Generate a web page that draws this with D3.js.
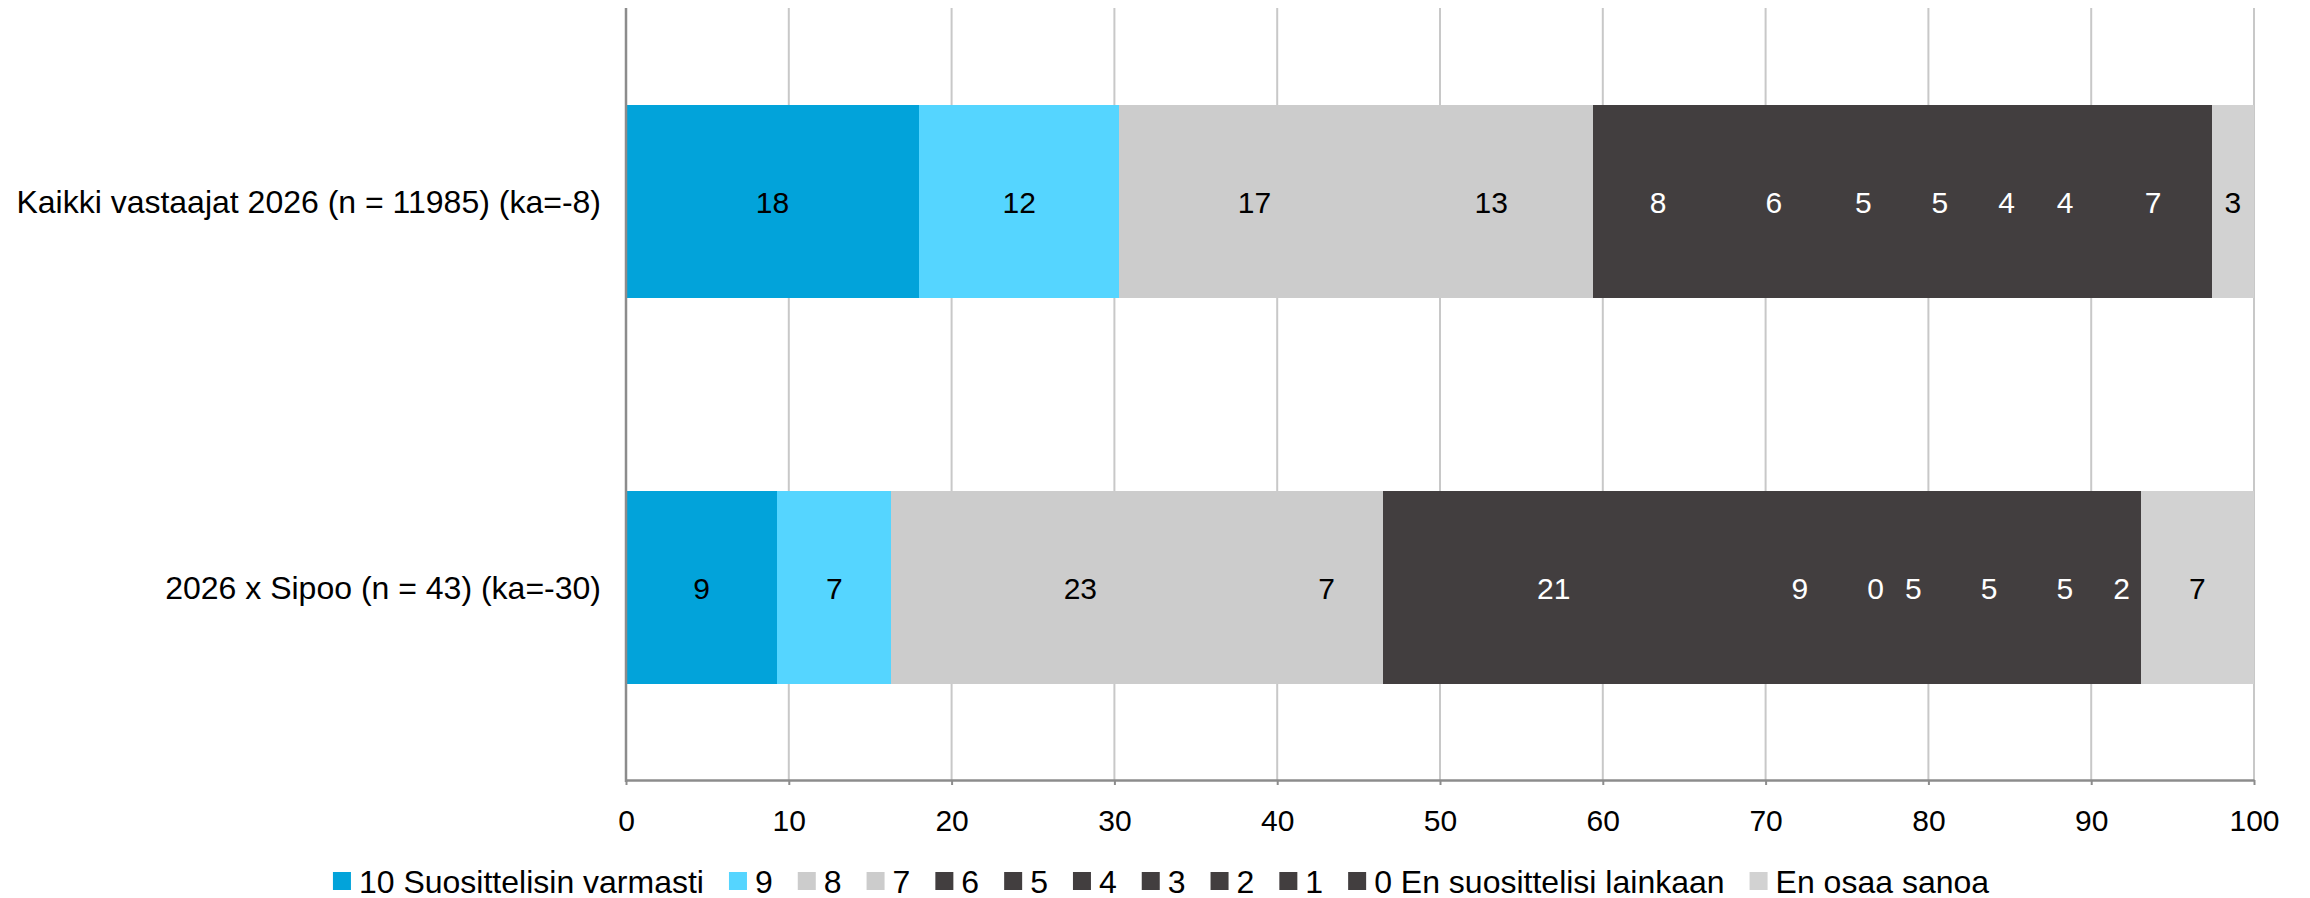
<!DOCTYPE html>
<html><head><meta charset="utf-8">
<script src="https://cdn.jsdelivr.net/npm/d3@7"></script>
<style>
body{margin:0;background:#fff}
svg{display:block}
text{font-family:"Liberation Sans",Arial,Helvetica,sans-serif}
</style>
</head><body>
<svg id="chart" width="2310" height="898"></svg>
<script>
// ---- data ----
const categories = ["Kaikki vastaajat 2026 (n = 11985) (ka=-8)", "2026 x Sipoo (n = 43) (ka=-30)"];
const seriesNames = ["10 Suosittelisin varmasti","9","8","7","6","5","4","3","2","1","0 En suosittelisi lainkaan","En osaa sanoa"];
const allValues   = [18.0, 12.3, 16.6, 12.5, 8.0, 6.2, 4.8, 4.6, 3.6, 3.6, 7.2, 2.6];
const sipooValues = [9.30, 6.98, 23.26, 6.98, 20.93, 9.30, 0, 4.65, 4.65, 4.65, 2.33, 6.98];
const tickValues  = [0,10,20,30,40,50,60,70,80,90,100];

// ---- styles ----
const seriesColors = ["#02A3DA","#55D5FF","#CCCCCC","#CCCCCC","#423E3F","#423E3F","#423E3F","#423E3F","#423E3F","#423E3F","#423E3F","#D2D2D2"];
const labelColors  = ["#000","#000","#000","#000","#fff","#fff","#fff","#fff","#fff","#fff","#fff","#000"];

const rows = categories.map((c,i)=>{
  const vals = i===0 ? allValues : sipooValues;
  const o = {cat:c};
  seriesNames.forEach((s,j)=>o[s]=vals[j]);
  return o;
});

const svg = d3.select("#chart");
const x = d3.scaleLinear().domain([0,100]).range([626,2254]);
const y = d3.scaleBand().domain(categories).range([8,780]).paddingInner(0.5).paddingOuter(0.25);
const color = d3.scaleOrdinal().domain(seriesNames).range(seriesColors);
const lblColor = d3.scaleOrdinal().domain(seriesNames).range(labelColors);

// gridlines
svg.append("g").selectAll("line").data(tickValues.slice(1)).join("line")
  .attr("x1",d=>x(d)).attr("x2",d=>x(d))
  .attr("y1",8).attr("y2",780)
  .attr("stroke","#C8C8C8").attr("stroke-width",2);

// stacked bars
const stacked = d3.stack().keys(seriesNames)(rows);
const layers = svg.append("g").attr("shape-rendering","crispEdges")
  .selectAll("g").data(stacked).join("g")
  .attr("fill",d=>color(d.key));
layers.selectAll("rect").data(d=>d).join("rect")
  .attr("x",d=>Math.round(x(d[0])))
  .attr("width",d=>Math.round(x(d[1]))-Math.round(x(d[0])))
  .attr("y",d=>y(d.data.cat)).attr("height",y.bandwidth());

// value labels
const lab = svg.append("g");
stacked.forEach(layer=>{
  lab.selectAll(null).data(layer).join("text")
    .attr("x",d=>(x(d[0])+x(d[1]))/2)
    .attr("y",d=>y(d.data.cat)+y.bandwidth()/2+12)
    .attr("text-anchor","middle")
    .attr("font-size",30)
    .attr("fill",lblColor(layer.key))
    .text(d=>Math.round(d[1]-d[0]));
});

// x axis
const ax = svg.append("g").attr("transform","translate(0,780)")
  .call(d3.axisBottom(x).tickValues(tickValues).tickSize(5).tickSizeOuter(0));
ax.select(".domain").attr("stroke","#8C8C8C").attr("stroke-width",2.5);
ax.selectAll(".tick line").attr("stroke","#8C8C8C").attr("stroke-width",2);
ax.selectAll(".tick text").attr("y",51).attr("dy",0).attr("font-size",30)
  .attr("fill","#000").style("font-family",'"Liberation Sans",Arial,sans-serif');

// left axis line
svg.append("line").attr("x1",626).attr("x2",626).attr("y1",8).attr("y2",782)
  .attr("stroke","#8C8C8C").attr("stroke-width",2.5);

// category labels
svg.append("g").selectAll("text").data(categories).join("text")
  .attr("x",601).attr("y",d=>y(d)+y.bandwidth()/2+12)
  .attr("text-anchor","end").attr("font-size",32).attr("fill","#000")
  .text(d=>d);

// legend
const lg = svg.append("g");
const items = lg.selectAll("g").data(seriesNames).join("g");
items.append("rect").attr("width",18).attr("height",18).attr("y",872)
  .attr("fill",d=>color(d));
items.append("text").attr("x",26).attr("y",892.5).attr("font-size",32).attr("fill","#000").text(d=>d);
let cx = 0; const pos=[];
items.each(function(){
  const w = d3.select(this).select("text").node().getComputedTextLength();
  pos.push(cx); cx += 26 + w + 25;
});
const total = cx - 25;
const start = 1161 - total/2;
items.attr("transform",(d,i)=>`translate(${start+pos[i]},0)`);
</script>
</body></html>
